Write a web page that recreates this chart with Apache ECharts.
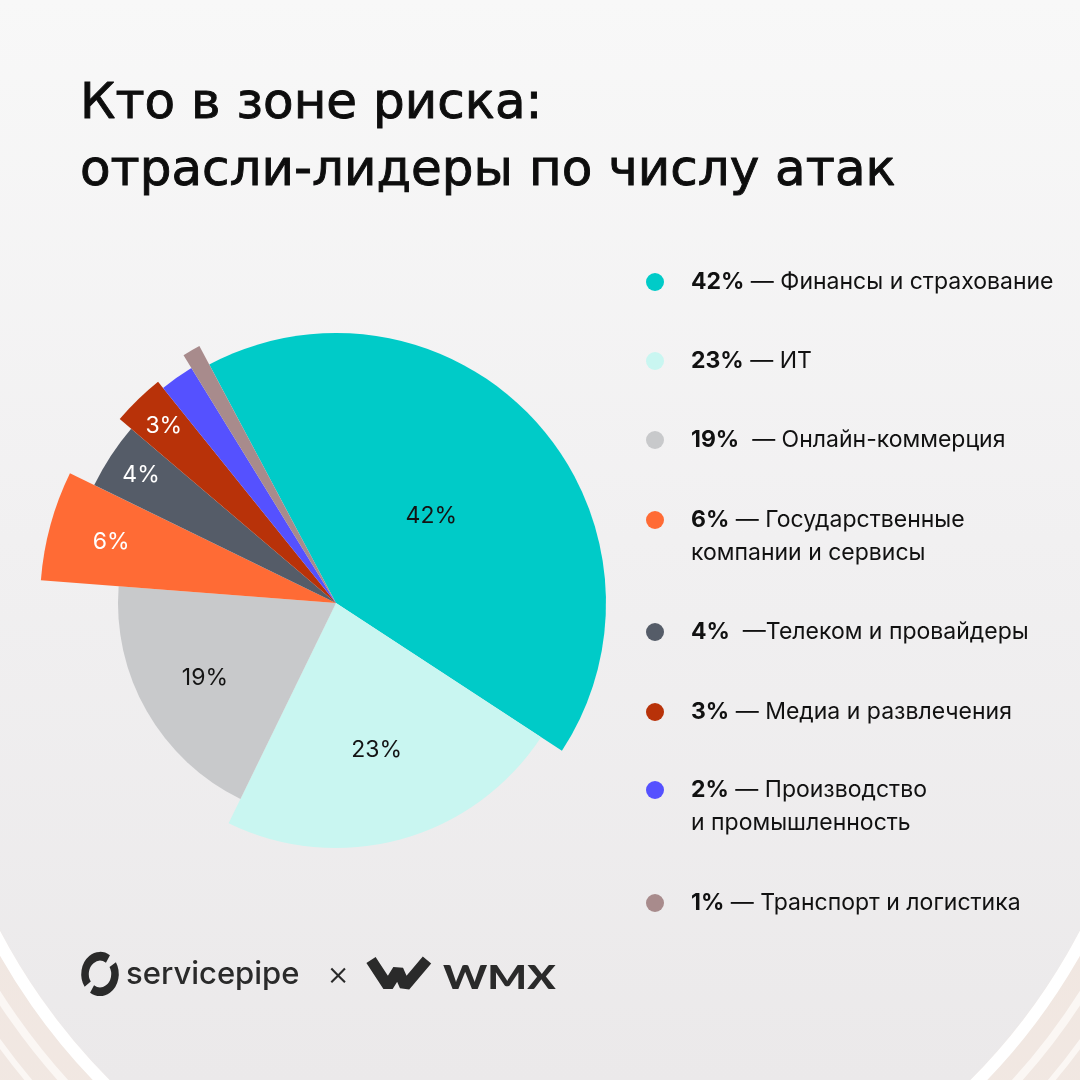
<!DOCTYPE html>
<html><head><meta charset="utf-8">
<script src="https://cdn.jsdelivr.net/npm/echarts@6/dist/echarts.min.js"></script>
<style>html,body{margin:0;padding:0;background:#f2f1f2;} #c{width:1080px;height:1080px;}</style>
</head><body><div id="c"></div>
<script>
// ---- data ----
const categories = ['Финансы и страхование','ИТ','Онлайн-коммерция','Государственные компании и сервисы','Телеком и провайдеры','Медиа и развлечения','Производство и промышленность','Транспорт и логистика'];
const values = [42, 23, 19, 6, 4, 3, 2, 1];
const legendText = ['Финансы и страхование','ИТ','Онлайн-коммерция','Государственные\nкомпании и сервисы','Телеком и провайдеры','Медиа и развлечения','Производство\nи промышленность','Транспорт и логистика'];
const legendSep = [' — ',' — ','  — ',' — ','  —',' — ',' — ',' — '];
const titleText = 'Кто в зоне риска:\nотрасли-лидеры по числу атак';

// ---- style ----
const colors = ['#00CBC8','#C9F6F1','#C8C9CB','#FF6B35','#555C68','#B83209','#5551FF','#A88B8C'];
const sliceRadius = [270, 245, 218, 296, 269, 284, 276, 291];
const labelRadius = [126, 150, 148, 230, 230, 244, 0, 0];
const labelColors = ['#141414','#141414','#141414','#ffffff','#ffffff','#ffffff','#ffffff','#ffffff'];
const legendIconY = [282, 361, 440, 520, 632, 712, 790, 903];
const CENTER = [336, 603];
const START = 118;
const T = 'rgba(0,0,0,0)';
const FONT = 'Inter';

const chart = echarts.init(document.getElementById('c'), null, {renderer: 'canvas'});

function pieData(i, labelOnly) {
  return categories.map((name, j) => ({
    name: name,
    value: values[j],
    itemStyle: {color: (!labelOnly && j === i) ? colors[j] : T, borderWidth: 0},
    label: {show: !!labelOnly && j === i}
  }));
}

const series = [];
categories.forEach((c, i) => {
  series.push({
    type: 'pie', name: 'slice' + i, center: CENTER, radius: [0, sliceRadius[i]],
    startAngle: START, clockwise: true, avoidLabelOverlap: false, silent: true,
    emphasis: {disabled: true}, label: {show: false}, labelLine: {show: false},
    itemStyle: {borderWidth: 0}, data: pieData(i, false), z: 2
  });
});
categories.forEach((c, i) => {
  if (!labelRadius[i]) return;
  series.push({
    type: 'pie', name: 'label' + i, center: CENTER, radius: [0, labelRadius[i] * 2],
    startAngle: START, clockwise: true, avoidLabelOverlap: false, silent: true,
    emphasis: {disabled: true}, labelLine: {show: false}, itemStyle: {borderWidth: 0},
    label: {show: false, position: 'inside', formatter: '{c}%', color: labelColors[i],
            fontSize: 23, fontFamily: FONT, fontWeight: 400},
    data: pieData(i, true), z: 3
  });
});

const LH = 33;
const legends = categories.map((name, i) => {
  const lines = legendText[i].split('\n').length;
  const blockH = LH * lines + LH * (lines - 1);
  return {
    show: true, orient: 'vertical', left: 646, top: legendIconY[i] - blockH / 2, padding: 0,
    icon: 'circle', itemWidth: 18, itemHeight: 18, selectedMode: false,
    data: [{name: name, itemStyle: {color: colors[i], borderWidth: 0}}],
    formatter: () => '{b|' + values[i] + '%}' + legendSep[i] + legendText[i],
    textStyle: {
      fontFamily: FONT, fontSize: 23, color: '#111', lineHeight: LH,
      padding: [LH * (lines - 1), 0, 0, 22],
      rich: {b: {fontFamily: FONT, fontSize: 23, fontWeight: 700, color: '#111', lineHeight: LH}}
    }
  };
});

const R0 = 609, CX = 540, CY = 649;
const deg = d => d * Math.PI / 180;
const decoFill = {type: 'linear', x: 0, y: 0, x2: 0, y2: 1,
  colorStops: [{offset: 0, color: '#efe4de'}, {offset: 1, color: '#f3ebe6'}]};
const graphic = [
  {type: 'sector', z: 0, silent: true, shape: {cx: CX, cy: CY, r0: R0, r: 1100, startAngle: deg(100), endAngle: deg(195)}, style: {fill: decoFill}},
  {type: 'sector', z: 0, silent: true, shape: {cx: CX, cy: CY, r0: R0, r: 1100, startAngle: deg(-15), endAngle: deg(80)}, style: {fill: decoFill}},
  {type: 'arc', z: 1, silent: true, shape: {cx: CX, cy: CY, r: R0 + 6, startAngle: deg(100), endAngle: deg(195)}, style: {stroke: '#ffffff', lineWidth: 12, fill: null}},
  {type: 'arc', z: 1, silent: true, shape: {cx: CX, cy: CY, r: R0 + 6, startAngle: deg(-15), endAngle: deg(80)}, style: {stroke: '#ffffff', lineWidth: 12, fill: null}},
  {type: 'arc', z: 1, silent: true, shape: {cx: CX, cy: CY, r: R0 + 34, startAngle: deg(100), endAngle: deg(195)}, style: {stroke: '#fbf7f4', lineWidth: 8, fill: null}},
  {type: 'arc', z: 1, silent: true, shape: {cx: CX, cy: CY, r: R0 + 34, startAngle: deg(-15), endAngle: deg(80)}, style: {stroke: '#fbf7f4', lineWidth: 8, fill: null}},
  {type: 'arc', z: 1, silent: true, shape: {cx: CX, cy: CY, r: R0 + 60, startAngle: deg(100), endAngle: deg(195)}, style: {stroke: '#fbf7f4', lineWidth: 6, fill: null}},
  {type: 'arc', z: 1, silent: true, shape: {cx: CX, cy: CY, r: R0 + 60, startAngle: deg(-15), endAngle: deg(80)}, style: {stroke: '#fbf7f4', lineWidth: 6, fill: null}},
  // servicepipe logo
  {type: 'arc', z: 5, silent: true, scaleY: 1.18, originX: 100, originY: 974,
   shape: {cx: 100, cy: 974, r: 15, startAngle: deg(145), endAngle: deg(302), clockwise: true},
   style: {stroke: '#2a2a2a', lineWidth: 7.5, fill: null}},
  {type: 'arc', z: 5, silent: true, scaleY: 1.18, originX: 100, originY: 974,
   shape: {cx: 100, cy: 974, r: 15, startAngle: deg(-32), endAngle: deg(122), clockwise: true},
   style: {stroke: '#2a2a2a', lineWidth: 7.5, fill: null}},
  {type: 'text', z: 5, silent: true, style: {text: 'servicepipe', x: 126, y: 975, font: '500 31px Inter', fill: '#2a2a2a', verticalAlign: 'middle', align: 'left'}},
  {type: 'text', z: 5, silent: true, style: {text: '×', x: 338, y: 975, font: '300 34px Inter', fill: '#2a2a2a', verticalAlign: 'middle', align: 'center'}},
  // WMX logo
  {type: 'polyline', z: 5, silent: true, shape: {points: [[371, 960], [388, 986], [398, 970], [405, 986], [427, 960]]}, style: {stroke: '#2a2a2a', lineWidth: 11, fill: null, lineJoin: 'bevel'}},
  {type: 'text', z: 5, silent: true, x: 443, y: 978, scaleX: 1.27, style: {text: 'WMX', x: 0, y: 0, font: '900 33px Lato', fill: '#2a2a2a', verticalAlign: 'middle', align: 'left'}}
];

chart.setOption({
  animation: false,
  backgroundColor: {type: 'linear', x: 0, y: 0, x2: 0, y2: 1,
    colorStops: [{offset: 0, color: '#f8f8f8'}, {offset: 0.5, color: '#f1f0f1'}, {offset: 1, color: '#ebe9ea'}]},
  title: {text: titleText, left: 80, top: 72, padding: 0,
    textStyle: {fontFamily: 'DejaVu Sans', fontSize: 50, fontWeight: 'normal', color: '#0d0d0d', lineHeight: 67,
      textBorderColor: '#0d0d0d', textBorderWidth: 0.9}},
  legend: legends,
  tooltip: {show: false},
  graphic: graphic,
  series: series
});
</script>
</body></html>
